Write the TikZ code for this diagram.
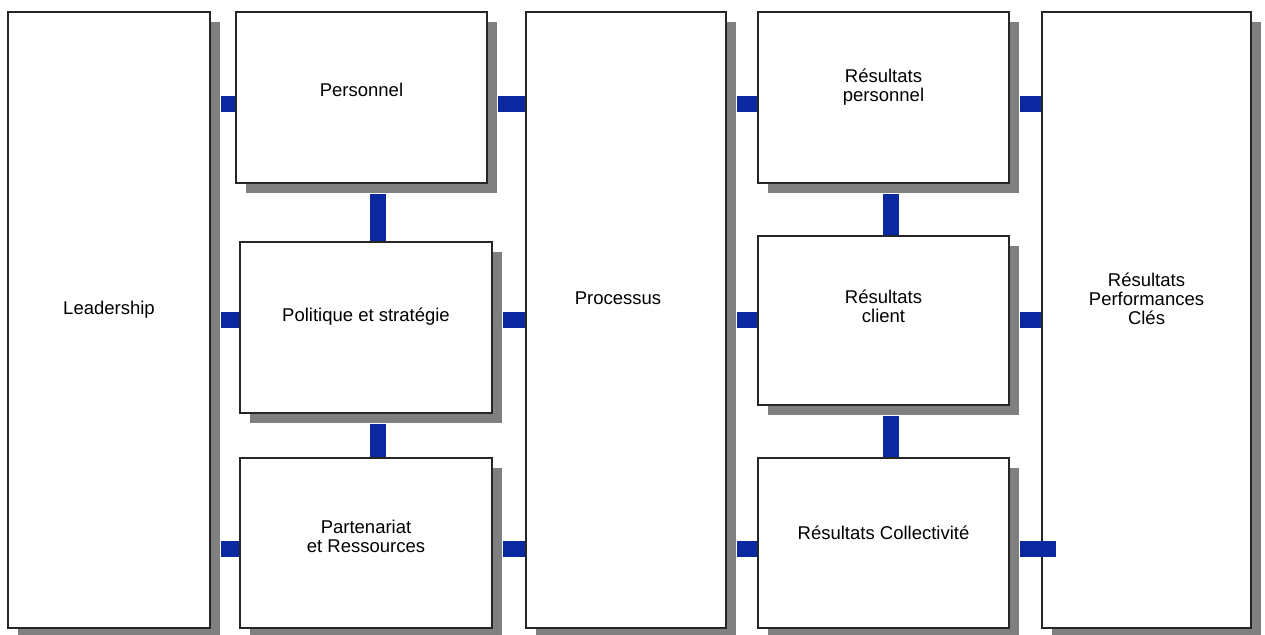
\documentclass[tikz,border=0pt]{standalone}
\usepackage{fontspec}
\setmainfont{Liberation Sans}
\usetikzlibrary{calc}
\definecolor{shadowgray}{RGB}{128,128,128}
\definecolor{linkblue}{RGB}{12,40,160}
\tikzset{
  panel/.style={draw=black!85, line width=1.1pt, fill=white, inner sep=0pt,
    preaction={fill=shadowgray, transform canvas={xshift=10pt, yshift=-10pt}}},
  label/.style={font=\fontsize{18.5}{19}\selectfont, align=center, inner sep=0pt},
  link/.style={draw=linkblue, line width=16pt, line cap=butt},
}
\begin{document}
\begin{tikzpicture}[x=1pt, y=-1pt]
  \useasboundingbox[fill=white] (0,0) rectangle (1265,634);

  % model columns
  \node[panel, minimum width=202pt, minimum height=616pt] (lead)  at (109,320)    {};
  \node[panel, minimum width=251pt, minimum height=171pt] (pers)  at (361.5,97.5) {};
  \node[panel, minimum width=252pt, minimum height=171pt] (pol)   at (366,327.5)  {};
  \node[panel, minimum width=252pt, minimum height=170pt] (part)  at (366,543)    {};
  \node[panel, minimum width=200pt, minimum height=616pt] (proc)  at (626,320)    {};
  \node[panel, minimum width=251pt, minimum height=171pt] (rpers) at (883.5,97.5) {};
  \node[panel, minimum width=251pt, minimum height=169pt] (rcli)  at (883.5,320.5){};
  \node[panel, minimum width=251pt, minimum height=170pt] (rcoll) at (883.5,543)  {};
  \node[panel, minimum width=209pt, minimum height=616pt] (perf)  at (1146.5,320) {};

  % captions
  \node[label] (leadT)  at (109,310)    {Leadership};
  \node[label] (persT)  at (361.5,90)   {Personnel};
  \node[label] (polT)   at (366,317)    {Politique et stratégie};
  \node[label] (partT)  at (366,536.5)  {Partenariat\\et Ressources};
  \node[label] (procT)  at (618,298)    {Processus};
  \node[label] (rpersT) at (883.5,87)   {Résultats\\personnel};
  \node[label] (rcliT)  at (883.5,306.5){Résultats\\client};
  \node[label] (rcollT) at (883.5,533)  {Résultats Collectivité};
  \node[label] (perfT)  at (1146.5,299) {Résultats\\Performances\\Clés};

  % link levels
  \coordinate (r1) at (0,104);
  \coordinate (r2) at (0,320);
  \coordinate (r3) at (0,549);
  \coordinate (c1) at (377.5,0);
  \coordinate (c2) at (890.5,0);

  % horizontal links
  \draw[link] (lead.east |- r1) ++(10,0) -- (pers.west |- r1);
  \draw[link] (lead.east |- r2) ++(10,0) -- (pol.west |- r2);
  \draw[link] (lead.east |- r3) ++(10,0) -- (part.west |- r3);
  \draw[link] (pers.east |- r1) ++(10,0) -- (proc.west |- r1);
  \draw[link] (pol.east |- r2) ++(10,0) -- (proc.west |- r2);
  \draw[link] (part.east |- r3) ++(10,0) -- (proc.west |- r3);
  \draw[link] (proc.east |- r1) ++(10,0) -- (rpers.west |- r1);
  \draw[link] (proc.east |- r2) ++(10,0) -- (rcli.west |- r2);
  \draw[link] (proc.east |- r3) ++(10,0) -- (rcoll.west |- r3);
  \draw[link] (rpers.east |- r1) ++(10,0) -- (perf.west |- r1);
  \draw[link] (rcli.east |- r2) ++(10,0) -- (perf.west |- r2);
  \draw[link] (rcoll.east |- r3) ++(10,0) -- ($(perf.west |- r3)+(15,0)$);

  % vertical links
  \draw[link] (pers.south -| c1) ++(0,10) -- (pol.north -| c1);
  \draw[link] (pol.south -| c1) ++(0,10) -- (part.north -| c1);
  \draw[link] (rpers.south -| c2) ++(0,10) -- (rcli.north -| c2);
  \draw[link] (rcli.south -| c2) ++(0,10) -- (rcoll.north -| c2);
\end{tikzpicture}
\end{document}
